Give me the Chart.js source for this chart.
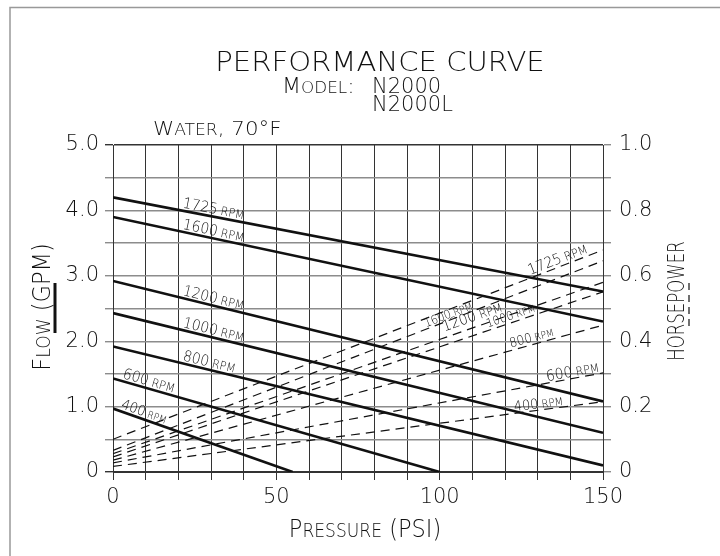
<!DOCTYPE html>
<html>
<head>
<meta charset="utf-8">
<script src="https://cdn.jsdelivr.net/npm/chart.js@4.4.1/dist/chart.umd.min.js"></script>
<style>
  html, body { margin: 0; padding: 0; background: #fff; }
  #wrap { width: 720px; height: 556px; }
</style>
</head>
<body>
<div id="wrap"><canvas id="perf" width="720" height="556"></canvas></div>
<script>
// 读图所得数据：流量（实线）与功率（虚线）
const rpm = ['1725', '1600', '1200', '1000', '800', '600', '400'];
const flowPsiStart = [0, 0, 0, 0, 0, 0, 0];
const flowPsiEnd = [150, 150, 150, 150, 150, 100, 55];
const flowGpmStart = [4.2, 3.9, 2.92, 2.43, 1.92, 1.43, 0.97];
const flowGpmEnd = [2.76, 2.3, 1.08, 0.6, 0.1, 0, 0];
const hpPsi = [0, 150];
const hpStart = [0.1, 0.066, 0.056, 0.046, 0.036, 0.028, 0.017];
const hpEnd = [0.679, 0.646, 0.58, 0.551, 0.449, 0.303, 0.215];
const psiTicks = [0, 50, 100, 150];
const gpmTicks = [0, 1, 2, 3, 4, 5];
const hpTicks = [0, 0.2, 0.4, 0.6, 0.8, 1.0];

const FONT = '"DejaVu Sans", sans-serif';
const INK = '#111';

// 标签位置（PSI）与字号：[位置, 数字字号, RPM字号, 抬高]
const flowTags = [[21, 15, 12, 3], [21, 15, 12, 3], [21, 15, 12, 3], [21, 15, 12, 3], [21, 15, 12, 3], [2.5, 15, 12, 3], [2, 14, 10, 3]];
const hpTags = [[128, 15, 12, 3], [96, 12, 10, 2], [102, 15, 12, 6], [115, 12, 10, 3], [122, 13, 10, 3], [133, 15, 12, 2], [123, 14, 11, 2]];

function font(size) { return '200 ' + size + 'px ' + FONT; }

// 小型大写字母式文字：parts = [[text, size], ...]
function capsText(ctx, parts, x, y, align, sx) {
  let w = 0;
  parts.forEach(function(p) { ctx.font = font(p[1]); w += ctx.measureText(p[0]).width; });
  ctx.save();
  ctx.translate(x, y);
  ctx.scale(sx || 1, 1);
  let cx = align === 'center' ? -w / 2 : (align === 'right' ? -w : 0);
  ctx.textAlign = 'left';
  ctx.textBaseline = 'alphabetic';
  parts.forEach(function(p) {
    ctx.font = font(p[1]);
    ctx.fillText(p[0], cx, 0);
    cx += ctx.measureText(p[0]).width;
  });
  ctx.restore();
}

function rpmTag(ctx, meta, xScale, tag, digits) {
  const p1 = meta.data[0], p2 = meta.data[1];
  const x = xScale.getPixelForValue(tag[0]);
  const t = (x - p1.x) / (p2.x - p1.x);
  const y = p1.y + t * (p2.y - p1.y);
  const ang = Math.atan2(p2.y - p1.y, p2.x - p1.x);
  ctx.save();
  ctx.translate(x, y);
  ctx.rotate(ang);
  ctx.fillStyle = INK;
  capsText(ctx, [[digits, tag[1]], [' ', tag[2]], ['RPM', tag[2]]], 0, -tag[3], 'left', 0.92);
  ctx.restore();
}

const decor = {
  id: 'decor',
  afterDatasetsDraw(chart) {
    const ctx = chart.ctx;
    const xs = chart.scales.x;
    ctx.save();
    ctx.fillStyle = INK;
    rpm.forEach(function(r, i) {
      rpmTag(ctx, chart.getDatasetMeta(i), xs, flowTags[i], r);
      rpmTag(ctx, chart.getDatasetMeta(i + rpm.length), xs, hpTags[i], r);
    });
    ctx.restore();
  },
  afterDraw(chart) {
    const ctx = chart.ctx;
    ctx.save();
    // 外框
    ctx.strokeStyle = '#999';
    ctx.lineWidth = 1.5;
    ctx.beginPath();
    ctx.moveTo(10, 556); ctx.lineTo(10, 7.5); ctx.lineTo(720, 7.5);
    ctx.stroke();

    ctx.fillStyle = INK;
    capsText(ctx, [['PERFORMANCE CURVE', 26]], 380, 71, 'center', 1.12);
    capsText(ctx, [['M', 21], ['ODEL', 16], [':', 21]], 282, 93, 'left', 1.05);
    capsText(ctx, [['N2000', 21]], 372, 93, 'left', 1.0);
    capsText(ctx, [['N2000L', 21]], 372, 111, 'left', 1.0);
    capsText(ctx, [['W', 20], ['ATER', 16], [', 70°F', 20]], 153, 135, 'left', 1.07);
    capsText(ctx, [['P', 25], ['RESSURE', 19], [' (PSI)', 25]], 365, 537, 'center', 0.9);

    // 纵轴标题
    ctx.save();
    ctx.translate(50, 307);
    ctx.rotate(-Math.PI / 2);
    capsText(ctx, [['F', 25], ['LOW', 19], [' (GPM)', 25]], 0, 0, 'center', 0.9);
    ctx.restore();
    ctx.strokeStyle = INK;
    ctx.lineWidth = 3;
    ctx.beginPath(); ctx.moveTo(55, 283); ctx.lineTo(55, 333); ctx.stroke();

    ctx.save();
    ctx.translate(684, 301);
    ctx.rotate(-Math.PI / 2);
    capsText(ctx, [['HORSEPOWER', 23]], 0, 0, 'center', 0.72);
    ctx.restore();
    ctx.lineWidth = 1.2;
    ctx.setLineDash([7, 5]);
    ctx.beginPath(); ctx.moveTo(689, 283); ctx.lineTo(689, 331); ctx.stroke();
    ctx.restore();
  }
};

const datasets = [];
rpm.forEach(function(r, i) {
  datasets.push({
    label: 'Flow ' + r + ' RPM',
    data: [{ x: flowPsiStart[i], y: flowGpmStart[i] }, { x: flowPsiEnd[i], y: flowGpmEnd[i] }],
    yAxisID: 'y',
    borderColor: INK,
    borderWidth: 2.6,
    pointRadius: 0,
    fill: false
  });
});
rpm.forEach(function(r, i) {
  datasets.push({
    label: 'HP ' + r + ' RPM',
    data: [{ x: hpPsi[0], y: hpStart[i] }, { x: hpPsi[1], y: hpEnd[i] }],
    yAxisID: 'y1',
    borderColor: INK,
    borderWidth: 1.2,
    borderDash: [9, 6],
    pointRadius: 0,
    fill: false
  });
});

function gridCol(c) { return (c.tick && (c.tick.value === 0 || c.tick.value === 5)) ? '#333' : '#8c8c8c'; }

new Chart(document.getElementById('perf'), {
  type: 'line',
  data: { datasets: datasets },
  plugins: [decor],
  options: {
    responsive: false,
    animation: false,
    layout: { padding: { top: 145, left: 0, right: 0, bottom: 0 } },
    plugins: { legend: { display: false }, tooltip: { enabled: false }, title: { display: false } },
    scales: {
      x: {
        type: 'linear', min: 0, max: 150,
        afterFit: function(s) { s.height = 84; },
        ticks: {
          stepSize: 10, autoSkip: false, padding: 5, color: INK,
          maxRotation: 0, minRotation: 0,
          font: { family: FONT, size: 21, weight: '200' },
          callback: function(v) { return psiTicks.includes(v) ? String(v) : ''; }
        },
        grid: { color: '#333', lineWidth: 1, tickLength: 8 },
        border: { display: true, color: '#333', width: 1 }
      },
      y: {
        type: 'linear', position: 'left', min: 0, max: 5,
        afterFit: function(s) { s.width = 113; },
        ticks: {
          stepSize: 0.5, autoSkip: false, padding: 6, color: INK,
          font: { family: FONT, size: 21, weight: '200' },
          callback: function(v) { return gpmTicks.includes(v) ? (v === 0 ? '0' : v.toFixed(1)) : ''; }
        },
        grid: { color: gridCol, lineWidth: 1.4, tickLength: 8 },
        border: { display: true, color: '#333', width: 1 }
      },
      y1: {
        type: 'linear', position: 'right', min: 0, max: 1,
        afterFit: function(s) { s.width = 117; },
        ticks: {
          stepSize: 0.1, autoSkip: false, padding: 8, color: INK,
          font: { family: FONT, size: 21, weight: '200' },
          callback: function(v) {
            const r = Math.round(v * 10) / 10;
            return hpTicks.includes(r) ? (r === 0 ? '0' : r.toFixed(1)) : '';
          }
        },
        grid: { drawOnChartArea: false, color: '#8c8c8c', lineWidth: 1.4, tickLength: 8 },
        border: { display: true, color: '#333', width: 1 }
      }
    }
  }
});
</script>
</body>
</html>
